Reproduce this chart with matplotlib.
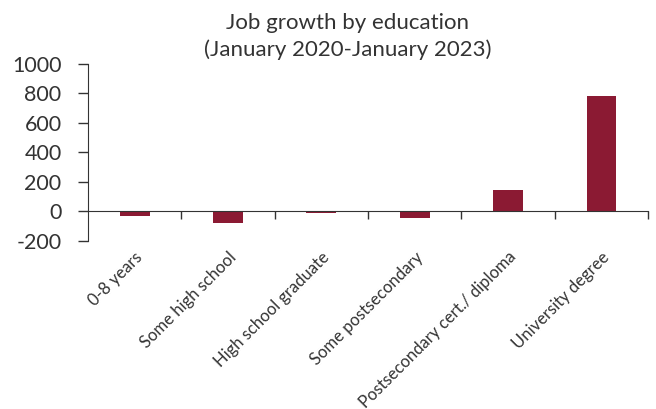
import matplotlib.pyplot as plt
import numpy as np

categories = ["0-8 years", "Some high school", "High school graduate",
              "Some postsecondary", "Postsecondary cert./ diploma", "University degree"]
job_growth = [-32, -80, -10, -45, 145, 783]

BAR_COLOR = "#8b1a33"
TEXT_COLOR = "#333333"

plt.rcParams["font.family"] = ["Lato", "DejaVu Sans"]
plt.rcParams["axes.unicode_minus"] = False

fig = plt.figure(figsize=(6.56, 4.09), dpi=100)
ax = fig.add_axes([0.134, 0.411, 0.854, 0.4325])

for side in ("top", "right"):
    ax.spines[side].set_visible(False)
ax.spines["left"].set_color(TEXT_COLOR)
ax.spines["bottom"].set_position(("data", 0))
ax.spines["bottom"].set_color(TEXT_COLOR)

x = np.arange(len(categories))
ax.bar(x, job_growth, width=0.32, color=BAR_COLOR)

ax.set_xlim(-0.5, len(categories) - 0.5)
ax.set_ylim(-200, 1000)
ax.set_yticks(range(-200, 1001, 200))
ax.tick_params(axis="y", labelsize=15.5, labelcolor=TEXT_COLOR, color=TEXT_COLOR,
               length=7, width=1, direction="out", pad=12)

ax.set_xticks(x)
ax.set_xticklabels(categories, rotation=45, ha="right", rotation_mode="anchor",
                   fontsize=12, color=TEXT_COLOR)
ax.tick_params(axis="x", which="major", length=0, pad=27)
ax.set_xticks(np.arange(0.5, len(categories), 1.0), minor=True)
ax.tick_params(axis="x", which="minor", length=6, width=1, color=TEXT_COLOR, direction="out")

fig.text(348 / 656, 1 - 23 / 409, "Job growth by education", ha="center", va="center",
         fontsize=16, color=TEXT_COLOR)
fig.text(348 / 656, 1 - 50 / 409, "(January 2020-January 2023)", ha="center", va="center",
         fontsize=16, color=TEXT_COLOR)

fig.savefig("out.png", dpi=100)
